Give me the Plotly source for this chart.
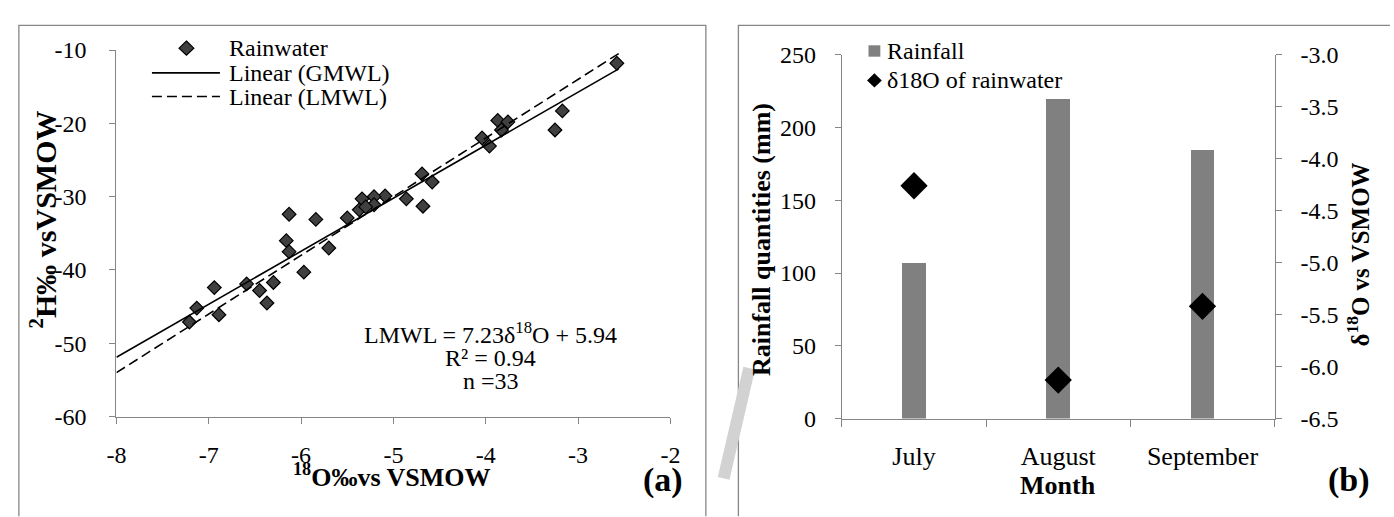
import plotly.graph_objects as go

W, H = 1394, 517

# ---- panel (a): rainwater isotopes (per mil vs VSMOW) ----
d18o = [-2.58, -3.17, -3.25, -3.87, -3.76, -3.83, -4.04, -3.96, -4.69, -4.58, -4.68, -4.86,
        -5.09, -5.21, -5.21, -5.34, -5.37, -5.30, -5.50, -5.84, -6.13, -6.16, -6.13, -5.70,
        -5.97, -6.94, -6.59, -6.45, -6.30, -6.37, -7.13, -6.89, -7.21]
d2h = [-11.8, -18.3, -20.9, -19.6, -19.8, -20.9, -22.0, -23.1, -26.9, -28.0, -31.3, -30.3,
       -29.9, -30.0, -31.1, -30.3, -31.8, -31.4, -32.9, -33.1, -32.4, -36.0, -37.5, -37.0,
       -40.3, -42.4, -41.9, -42.8, -41.7, -44.5, -45.2, -46.1, -47.1]

# trend lines: slope / intercept, drawn over the fitted span
fit_span = [-8.0, -2.56]
solid_slope, solid_icpt = 7.23, 5.94
dash_slope, dash_icpt = 8.0, 10.0

o18_ticks = [-8, -7, -6, -5, -4, -3, -2]
o18_labels = ["-8", "-7", "-6", "-5", "-4", "-3", "-2"]
h2_ticks = [-60, -50, -40, -30, -20, -10]
h2_labels = ["-60", "-50", "-40", "-30", "-20", "-10"]

# ---- panel (b): monthly rainfall and mean d18O ----
months = ["July", "August", "September"]
rainfall_mm = [107, 220, 185]
d18o_month = [-4.26, -6.13, -5.42]

rain_ticks = [0, 50, 100, 150, 200, 250]
rain_labels = ["0", "50", "100", "150", "200", "250"]
iso_ticks = [-6.5, -6.0, -5.5, -5.0, -4.5, -4.0, -3.5, -3.0]
iso_labels = ["-6.5", "-6.0", "-5.5", "-5.0", "-4.5", "-4.0", "-3.5", "-3.0"]

FONT = "Liberation Serif, Times New Roman, serif"
GREY = "#868686"


def px(x):
    return x / W


def py(y):
    return 1 - y / H


fig = go.Figure()

fig.add_trace(go.Scatter(
    x=d18o, y=d2h, mode="markers", name="Rainwater", xaxis="x", yaxis="y",
    marker=dict(symbol="diamond", size=10.5, color="#404040",
                line=dict(color="black", width=1.2)),
    showlegend=False))

fig.add_trace(go.Scatter(
    x=fit_span, y=[solid_slope * v + solid_icpt for v in fit_span],
    mode="lines", name="Linear (GMWL)", xaxis="x", yaxis="y",
    line=dict(color="black", width=1.6), showlegend=False))

fig.add_trace(go.Scatter(
    x=fit_span, y=[dash_slope * v + dash_icpt for v in fit_span],
    mode="lines", name="Linear (LMWL)", xaxis="x", yaxis="y",
    line=dict(color="black", width=1.6, dash="10px,5px"), showlegend=False))

fig.add_trace(go.Bar(
    x=months, y=rainfall_mm, name="Rainfall", xaxis="x2", yaxis="y3",
    marker=dict(color="#808080", line=dict(width=0)), width=0.165,
    showlegend=False))

fig.add_trace(go.Scatter(
    x=months, y=d18o_month, mode="markers", name="δ18O of rainwater",
    xaxis="x2", yaxis="y4",
    marker=dict(symbol="diamond", size=21, color="black"), showlegend=False))


def axis_style(size=24, standoff=10, ticklen=6):
    return dict(showline=True, linecolor=GREY, linewidth=1.3, ticks="outside",
                tickcolor=GREY, tickwidth=1.3, ticklen=ticklen, showgrid=False,
                zeroline=False, ticklabelstandoff=standoff,
                tickfont=dict(family=FONT, size=size, color="black"))


fig.update_layout(
    width=W, height=H,
    margin=dict(l=0, r=0, t=0, b=0),
    paper_bgcolor="white", plot_bgcolor="rgba(0,0,0,0)",
    font=dict(family=FONT, size=24, color="black"),
    bargap=0,
    xaxis=dict(domain=[px(108), px(670)], range=[-8, -2], anchor="y",
               tickmode="array", tickvals=o18_ticks, ticktext=o18_labels,
               **axis_style(standoff=10)),
    yaxis=dict(domain=[py(425), py(39)], range=[-60, -10], anchor="x",
               tickmode="array", tickvals=h2_ticks, ticktext=h2_labels,
               **axis_style(standoff=18)),
    xaxis2=dict(domain=[px(844), px(1283)], range=[-0.5, 2.5], anchor="y3",
                type="category", tickson="boundaries",
                **axis_style(size=26, standoff=14, ticklen=7)),
    yaxis3=dict(domain=[py(427), py(44)], range=[0, 250], anchor="x2",
                tickmode="array", tickvals=rain_ticks, ticktext=rain_labels,
                **axis_style(standoff=14)),
    yaxis4=dict(domain=[py(427), py(44)], range=[-6.5, -3.0], anchor="x2",
                overlaying="y3", side="right",
                tickmode="array", tickvals=iso_ticks, ticktext=iso_labels,
                **axis_style(standoff=14)),
)

shapes = []
# panel frames
shapes.append(dict(type="path", xref="paper", yref="paper",
                   path=f"M {px(9)},{py(530)} L {px(9)},{py(13)} L {px(706)},{py(13)} L {px(706)},{py(530)}",
                   line=dict(color=GREY, width=1.3), layer="below"))
shapes.append(dict(type="path", xref="paper", yref="paper",
                   path=f"M {px(739)},{py(530)} L {px(739)},{py(13)} L {px(1400)},{py(13)}",
                   line=dict(color=GREY, width=1.3), layer="below"))


def diamond(cx, cy, r, fill, edge, ew):
    p = (f"M {px(cx)},{py(cy - r)} L {px(cx + r)},{py(cy)} "
         f"L {px(cx)},{py(cy + r)} L {px(cx - r)},{py(cy)} Z")
    return dict(type="path", xref="paper", yref="paper", path=p,
                fillcolor=fill, line=dict(color=edge, width=ew))


# legend keys, panel (a)
shapes.append(diamond(179, 37, 7.5, "#404040", "black", 1.2))
shapes.append(dict(type="line", xref="paper", yref="paper",
                   x0=px(144), x1=px(213), y0=py(63), y1=py(63),
                   line=dict(color="black", width=1.6)))
shapes.append(dict(type="line", xref="paper", yref="paper",
                   x0=px(144), x1=px(213), y0=py(88), y1=py(88),
                   line=dict(color="black", width=1.6, dash="10px,5px")))
# legend keys, panel (b)
shapes.append(dict(type="rect", xref="paper", yref="paper",
                   x0=px(871), x1=px(883), y0=py(34), y1=py(46),
                   fillcolor="#808080", line=dict(width=0)))
shapes.append(diamond(877, 71, 7.5, "black", "black", 0))

# faint diagonal watermark stroke across the lower left of panel (b)
shapes.append(dict(type="line", xref="paper", yref="paper",
                   x0=px(724), x1=px(750), y0=py(490), y1=py(374),
                   line=dict(color="#d2d2d2", width=12), layer="above"))

fig.update_layout(shapes=shapes)


def label(x, y, text, size=24, bold=False, angle=0, xanchor="center"):
    fig.add_annotation(x=px(x), y=py(y), xref="paper", yref="paper",
                       text=f"<b>{text}</b>" if bold else text, showarrow=False,
                       textangle=angle, xanchor=xanchor, yanchor="middle",
                       font=dict(family=FONT, size=size, color="black"))


# legend text
label(220, 37, "Rainwater", xanchor="left")
label(220, 63, "Linear (GMWL)", xanchor="left")
label(220, 88, "Linear (LMWL)", xanchor="left")
label(888, 40, "Rainfall", xanchor="left")
label(888, 71, "δ18O of rainwater", xanchor="left")

# regression statistics
label(488, 337, f"LMWL = {solid_slope}δ<sup>18</sup>O + {solid_icpt}")
label(488, 363, "R² = 0.94")
label(488, 388, f"n ={len(d18o)}")

# axis titles and panel tags
label(34, 218, "<sup>2</sup>H‰ vsVSMOW", size=30, bold=True, angle=-90)
label(388, 487, "<sup>18</sup>O‰vs VSMOW", size=26, bold=True)
label(663, 492, "(a)", size=34, bold=True)
label(763, 239, "Rainfall quantities (mm)", size=26, bold=True, angle=-90)
label(1368, 254, "δ<sup>18</sup>O vs VSMOW", size=25, bold=True, angle=-90)
label(1063, 498, "Month", size=26, bold=True)
label(1358, 492, "(b)", size=34, bold=True)

fig.write_html("out.html")
